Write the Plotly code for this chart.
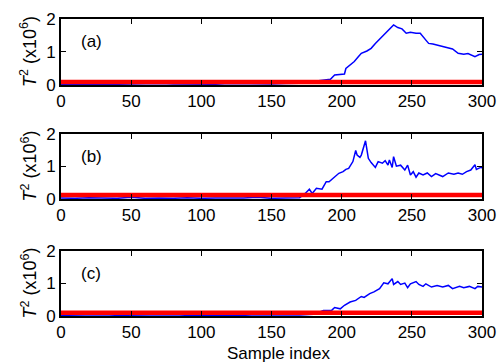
import plotly.graph_objects as go

# ---- data ----
noise_x = [0, 10, 20, 30, 40, 50, 60, 70, 80, 90, 100, 110, 120, 130, 140, 150, 160, 170]

a_x = noise_x + [175, 180, 185, 190, 192, 195, 200, 202, 203, 206, 209, 212, 214, 218, 221, 224, 227, 230, 233, 237,
                 240, 243, 246, 249, 253, 256, 260, 262, 265, 268, 272, 276, 279, 283, 287, 290, 292, 295, 298, 300]
a_y = [0.02, 0.03, 0.02, 0.03, 0.02, 0.03, 0.02, 0.04, 0.03, 0.02, 0.03, 0.02, 0.04, 0.03, 0.02, 0.03, 0.04, 0.05] + \
      [0.08, 0.10, 0.12, 0.14, 0.17, 0.30, 0.32, 0.33, 0.50, 0.60, 0.71, 0.86, 0.96, 1.03, 1.11, 1.26, 1.39, 1.52, 1.67, 1.82,
       1.74, 1.70, 1.57, 1.60, 1.57, 1.57, 1.36, 1.26, 1.24, 1.21, 1.16, 1.11, 1.09, 0.96, 0.93, 0.95, 0.91, 0.86, 0.92, 0.93]

b_x = noise_x + [174, 177, 179, 182, 186, 189, 191, 195, 198, 201, 203, 205, 208, 210, 211, 213, 214, 217, 219, 221,
                 224, 226, 229, 231, 233, 234, 236, 237, 239, 242, 245, 247, 249, 251, 253, 255, 258, 261, 264, 267,
                 272, 276, 280, 283, 286, 289, 292, 295, 296, 299, 300]
b_y = [0.03, 0.02, 0.04, 0.03, 0.02, 0.05, 0.02, 0.03, 0.02, 0.04, 0.02, 0.03, 0.02, 0.03, 0.05, 0.02, 0.03, 0.04] + \
      [0.17, 0.30, 0.17, 0.33, 0.30, 0.53, 0.53, 0.69, 0.79, 0.84, 0.91, 0.94, 1.15, 1.49, 1.35, 1.28, 1.35, 1.79, 1.25, 1.12,
       0.97, 1.15, 1.10, 1.18, 1.04, 1.20, 0.97, 1.30, 1.01, 1.04, 0.89, 1.04, 0.74, 0.84, 0.67, 0.80, 0.74, 0.80, 0.69, 0.78,
       0.69, 0.80, 0.76, 0.80, 0.76, 0.84, 0.89, 1.05, 0.91, 0.97, 0.96]

c_x = noise_x + [180, 187, 193, 195, 199, 202, 206, 210, 214, 216, 220, 223, 227, 228, 230, 233, 236, 237, 240, 242,
                 245, 247, 249, 253, 255, 258, 260, 264, 268, 272, 276, 279, 284, 287, 291, 295, 297, 300]
c_y = [0.02, 0.03, 0.02, 0.04, 0.02, 0.03, 0.02, 0.03, 0.04, 0.02, 0.03, 0.02, 0.03, 0.02, 0.04, 0.03, 0.02, 0.03] + \
      [0.05, 0.17, 0.18, 0.26, 0.22, 0.33, 0.43, 0.48, 0.60, 0.57, 0.69, 0.74, 0.84, 0.91, 1.02, 0.99, 1.15, 0.97, 1.06, 0.97,
       1.01, 0.87, 0.99, 1.06, 0.97, 0.91, 0.99, 0.89, 0.94, 0.89, 0.94, 0.84, 0.91, 0.87, 0.91, 0.84, 0.91, 0.89]

thresholds = [0.09, 0.12, 0.10]
panel_labels = ["(a)", "(b)", "(c)"]
x_ticks = [0, 50, 100, 150, 200, 250, 300]
y_ticks = [0, 1, 2]
x_title = "Sample index"
y_title = "<i>T</i><sup>2</sup> (x10<sup>6</sup>)"

series = [(a_x, a_y), (b_x, b_y), (c_x, c_y)]

# ---- layout geometry ----
W, H = 500, 362
ML, MR, MT, MB = 61, 18, 19, 46
domains = [[0.778, 1.0], [0.394, 0.613], [0.0, 0.219]]
FONT = "Liberation Sans, Arial, sans-serif"

fig = go.Figure()
for i, ((xs, ys), thr) in enumerate(zip(series, thresholds)):
    ax = "" if i == 0 else str(i + 1)
    fig.add_trace(go.Scatter(x=xs, y=ys, mode="lines", line=dict(color="#0000ff", width=1.5),
                             xaxis="x" + ax, yaxis="y" + ax, showlegend=False))
    fig.add_trace(go.Scatter(x=[x_ticks[0], x_ticks[-1]], y=[thr, thr], mode="lines",
                             line=dict(color="#ff0000", width=4.5),
                             xaxis="x" + ax, yaxis="y" + ax, showlegend=False))
    axis_common = dict(showline=True, linecolor="black", linewidth=2, mirror="ticks",
                       ticks="inside", ticklen=5, tickcolor="black", showgrid=False, zeroline=False,
                       tickfont=dict(family=FONT, size=17, color="black"))
    fig.layout["xaxis" + ax] = dict(axis_common, domain=[0, 1], range=[0, 300], tickvals=x_ticks,
                                    anchor="y" + ax)
    fig.layout["yaxis" + ax] = dict(axis_common, domain=domains[i], range=[0, 2], tickvals=y_ticks,
                                    anchor="x" + ax)
    fig.add_annotation(x=13, y=1.32, xref="x" + ax, yref="y" + ax, text=panel_labels[i],
                       showarrow=False, xanchor="left", yanchor="middle",
                       font=dict(family=FONT, size=17, color="black"))
    fig.add_annotation(x=-0.076, y=sum(domains[i]) / 2, xref="paper", yref="paper", text=y_title,
                       textangle=-90, showarrow=False, xanchor="center", yanchor="middle",
                       font=dict(family=FONT, size=18, color="black"))

fig.add_annotation(x=0.518, y=-0.125, xref="paper", yref="paper", text=x_title, showarrow=False,
                   xanchor="center", yanchor="middle", font=dict(family=FONT, size=17, color="black"))

fig.update_layout(width=W, height=H, margin=dict(l=ML, r=MR, t=MT, b=MB, autoexpand=False),
                  paper_bgcolor="white", plot_bgcolor="white")

fig.write_html("out.html", config={"displayModeBar": False},
               post_script="document.body.style.margin='0';document.body.style.overflow='hidden';")
